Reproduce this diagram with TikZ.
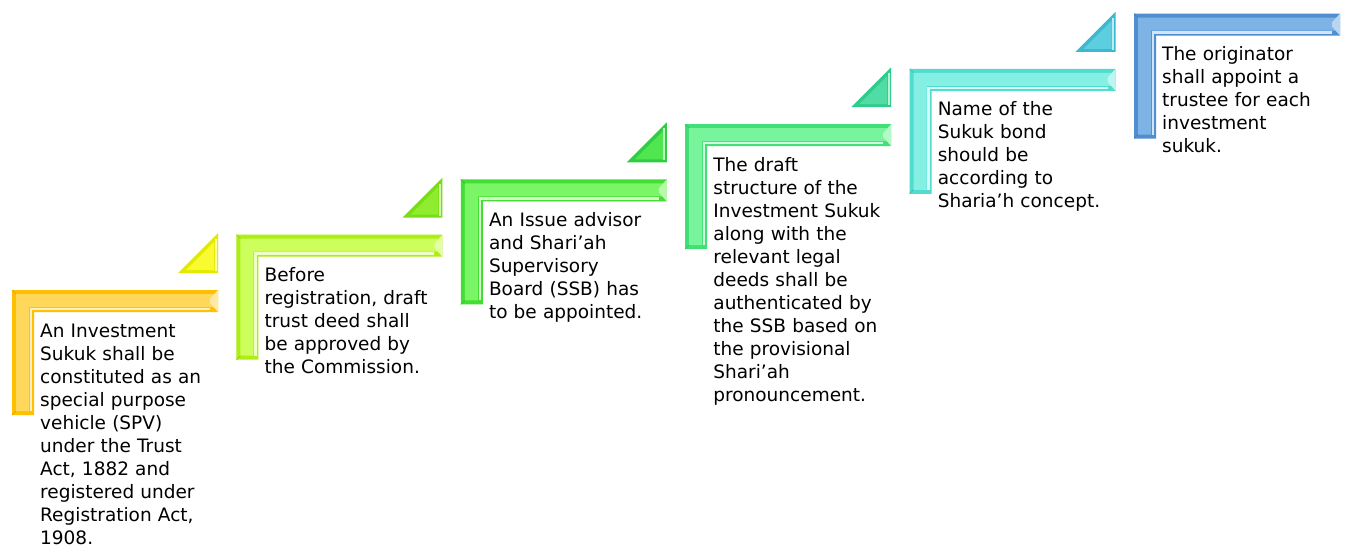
\documentclass[tikz,border=0pt]{standalone}
\usepackage{fontspec}
\setmainfont{DejaVu Sans}
\usetikzlibrary{calc}
\tikzset{
  steptext/.style={anchor=base west, inner sep=0pt, text width=210pt, align=left,
    font=\fontsize{18.5}{23}\selectfont},
}
\definecolor{oA}{HTML}{FFC000}\definecolor{iA}{HTML}{FFD75A}
\definecolor{tdA}{HTML}{E2EA00}\definecolor{tlA}{HTML}{FAFA30}
\definecolor{oB}{HTML}{AEEE14}\definecolor{iB}{HTML}{CCFF5C}
\definecolor{tdB}{HTML}{77DD14}\definecolor{tlB}{HTML}{90EC30}
\definecolor{oC}{HTML}{44DD33}\definecolor{iC}{HTML}{7AF566}
\definecolor{tdC}{HTML}{30CC44}\definecolor{tlC}{HTML}{50E650}
\definecolor{oD}{HTML}{40E077}\definecolor{iD}{HTML}{78F59C}
\definecolor{tdD}{HTML}{30CC8C}\definecolor{tlD}{HTML}{50DCA4}
\definecolor{oE}{HTML}{50DCCF}\definecolor{iE}{HTML}{86EFE4}
\definecolor{tdE}{HTML}{3CB8D0}\definecolor{tlE}{HTML}{5CCEDE}
\definecolor{oF}{HTML}{4F8FCF}\definecolor{iF}{HTML}{7EB3E6}
\newcommand\mylshape[4]{%
  \fill[#3] (#1,#2) -- (#1+206,#2) -- (#1+206,#2+22) -- (#1+22,#2+22) -- (#1+22,#2+125) -- (#1,#2+125) -- cycle;
  \fill[#4] (#1+4,#2+4) -- (#1+202,#2+4) -- (#1+202,#2+17) -- (#1+17,#2+17) -- (#1+17,#2+121) -- (#1+4,#2+121) -- cycle;
  \fill[white!45!#4] (#1+206,#2) -- (#1+198,#2+9) -- (#1+198,#2+13) -- (#1+206,#2+22) -- cycle;
  \draw[white!65!#4, line width=2.5pt] (#1+198,#2+19) -- (#1+19,#2+19) -- (#1+19,#2+121);
  \draw[#3!85!black, line width=0.6pt] (#1,#2) -- (#1+4,#2+4) (#1,#2+125) -- (#1+4,#2+121);
}
\newcommand\mytri[4]{% right x, top y, dark, light
  \fill[#3] (#1,#2) -- (#1,#2+40) -- (#1-40,#2+40) -- cycle;
  \fill[#4] (#1-4,#2+9) -- (#1-4,#2+37) -- (#1-32,#2+37) -- cycle;
  \draw[white!60!#4, line width=2pt] (#1-2.5,#2+6) -- (#1-2.5,#2+38);
}
\begin{document}
\begin{tikzpicture}[x=1pt,y=-1pt]
\useasboundingbox (0,0) rectangle (1346,546);
% step 1
\mylshape{12}{290}{oA}{iA}
\mytri{218}{233}{tdA}{tlA}
\node[steptext] (t1) at (40,337) {An Investment\\Sukuk shall be\\constituted as an\\special purpose\\vehicle (SPV)\\under the Trust\\Act, 1882 and\\registered under\\Registration Act,\\1908.};
% step 2
\mylshape{236.4}{234.7}{oB}{iB}
\mytri{442.4}{177.7}{tdB}{tlB}
\node[steptext] (t2) at (264.4,281.7) {Before\\registration, draft\\trust deed shall\\be approved by\\the Commission.};
% step 3
\mylshape{460.8}{179.4}{oC}{iC}
\mytri{666.8}{122.4}{tdC}{tlC}
\node[steptext] (t3) at (488.8,226.4) {An Issue advisor\\and Shari’ah\\Supervisory\\Board (SSB) has\\to be appointed.};
% step 4
\mylshape{685.2}{124.1}{oD}{iD}
\mytri{891.2}{67.1}{tdD}{tlD}
\node[steptext] (t4) at (713.2,171.1) {The draft\\structure of the\\Investment Sukuk\\along with the\\relevant legal\\deeds shall be\\authenticated by\\the SSB based on\\the provisional\\Shari’ah\\pronouncement.};
% step 5
\mylshape{909.6}{68.8}{oE}{iE}
\mytri{1115.6}{11.8}{tdE}{tlE}
\node[steptext] (t5) at (937.6,115.8) {Name of the\\Sukuk bond\\should be\\according to\\Sharia’h concept.};
% step 6
\mylshape{1134}{13.5}{oF}{iF}
\node[steptext] (t6) at (1162,60.5) {The originator\\shall appoint a\\trustee for each\\investment\\sukuk.};
\end{tikzpicture}
\end{document}
